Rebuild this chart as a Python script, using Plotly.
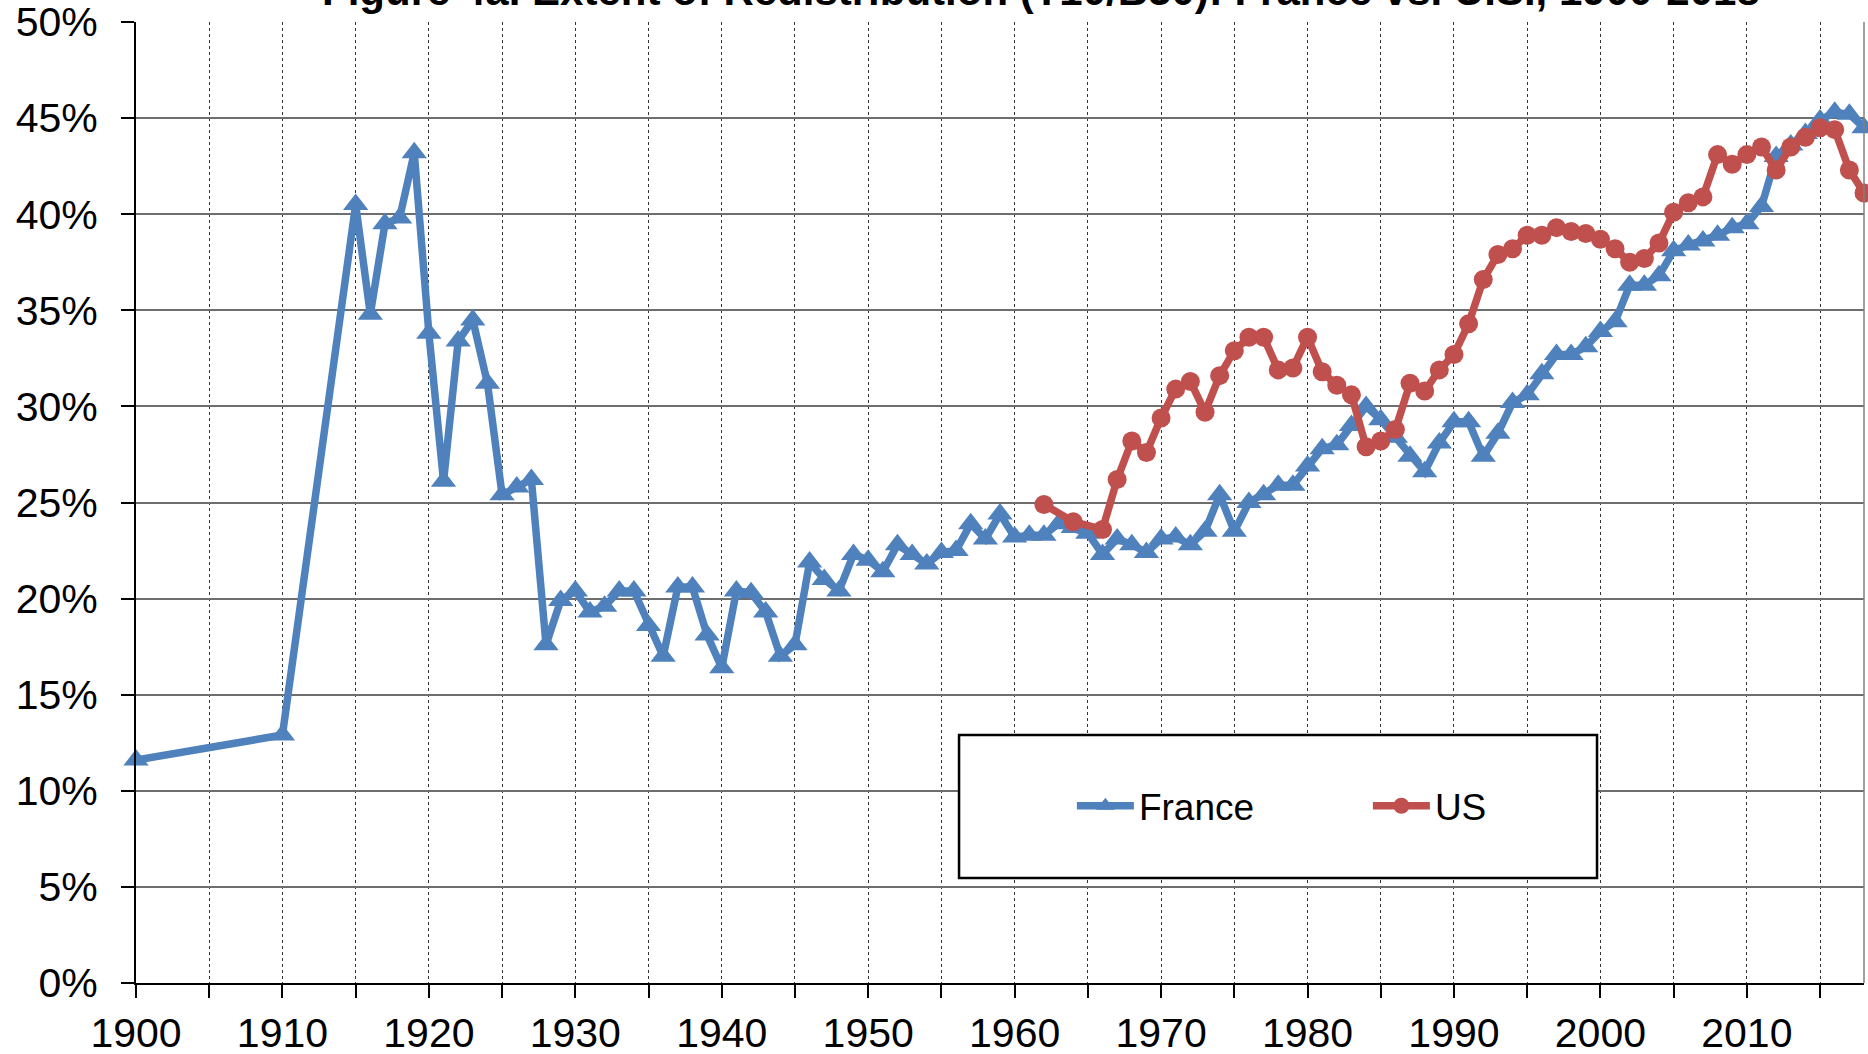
import plotly.graph_objects as go

# ---------------- data ----------------
france_years = [1900, 1910] + list(range(1915, 2019))
france_values = [
    11.6, 12.9,
    40.5, 34.8, 39.5, 39.8, 43.2, 33.8, 26.1, 33.4, 34.5, 31.2,   # 1915-1924
    25.4, 25.8, 26.2, 17.6, 19.9, 20.4, 19.3, 19.6, 20.4, 20.4,   # 1925-1934
    18.6, 17.0, 20.6, 20.6, 18.1, 16.4, 20.4, 20.3, 19.3, 17.0,   # 1935-1944
    17.6, 21.9, 21.0, 20.4, 22.3, 22.0, 21.4, 22.8, 22.3, 21.8,   # 1945-1954
    22.4, 22.5, 23.9, 23.1, 24.4, 23.2, 23.3, 23.3, 23.9, 23.7,   # 1955-1964
    23.4, 22.3, 23.1, 22.8, 22.4, 23.1, 23.2, 22.8, 23.5, 25.4,   # 1965-1974
    23.5, 25.0, 25.4, 25.9, 25.9, 26.9, 27.8, 28.0, 29.0, 30.0,   # 1975-1984
    29.3, 28.4, 27.4, 26.6, 28.1, 29.2, 29.2, 27.4, 28.6, 30.2,   # 1985-1994
    30.6, 31.7, 32.7, 32.7, 33.1, 33.9, 34.4, 36.3, 36.3, 36.8,   # 1995-2004
    38.1, 38.4, 38.6, 38.9, 39.3, 39.5, 40.4, 43.0, 43.6, 44.2,   # 2005-2014
    44.9, 45.3, 45.2, 44.5,                                       # 2015-2018
]

us_years = [1962, 1964, 1966] + list(range(1967, 2019))
us_values = [
    24.9, 24.0, 23.6,
    26.2, 28.2, 27.6, 29.4, 30.9, 31.3, 29.7, 31.6, 32.9, 33.6,   # 1967-1976
    33.6, 31.9, 32.0, 33.6, 31.8, 31.1, 30.6, 27.9, 28.2, 28.8,   # 1977-1986
    31.2, 30.8, 31.9, 32.7, 34.3, 36.6, 37.9, 38.2, 38.9, 38.9,   # 1987-1996
    39.3, 39.1, 39.0, 38.7, 38.2, 37.5, 37.7, 38.5, 40.1, 40.6,   # 1997-2006
    40.9, 43.1, 42.6, 43.1, 43.5, 42.3, 43.5, 44.0, 44.5, 44.4,   # 2007-2016
    42.3, 41.1,                                                   # 2017-2018
]

x_tick_vals = list(range(1900, 2019, 5))
x_tick_text = [str(v) if v % 10 == 0 else "" for v in x_tick_vals]
y_tick_vals = [0, 5, 10, 15, 20, 25, 30, 35, 40, 45, 50]
y_tick_text = ["0%", "5%", "10%", "15%", "20%", "25%", "30%", "35%", "40%", "45%", "50%"]

title_text = "Figure 4a. Extent of Redistribution (T10/B50): France vs. U.S., 1900-2018"

FONT = "Liberation Sans, Arial, sans-serif"
BLUE = "#4F81BD"
RED = "#C0504D"

fig = go.Figure()
fig.add_trace(go.Scatter(
    x=france_years, y=france_values, name="France", mode="lines+markers",
    line=dict(color=BLUE, width=7.5),
    marker=dict(symbol="triangle-up", size=22, color=BLUE),
    cliponaxis=False,
))
fig.add_trace(go.Scatter(
    x=us_years, y=us_values, name="US", mode="lines+markers",
    line=dict(color=RED, width=7.5),
    marker=dict(symbol="circle", size=19, color=RED),
    cliponaxis=False,
))

fig.update_layout(
    width=1868, height=1054,
    margin=dict(l=136, r=4, t=21.5, b=70.5, pad=0),
    paper_bgcolor="white", plot_bgcolor="white",
    font=dict(family=FONT, color="black", size=41),
    showlegend=True,
    legend=dict(
        orientation="h", x=0.5416, xanchor="left", y=0.184, yanchor="middle",
        bgcolor="rgba(0,0,0,0)", borderwidth=0,
        font=dict(family=FONT, size=37, color="black"),
        entrywidth=224, entrywidthmode="pixels", itemwidth=57,
    ),
    xaxis=dict(
        range=[1900, 2018], tickmode="array", tickvals=x_tick_vals, ticktext=x_tick_text,
        ticks="outside", ticklen=13, tickcolor="black", tickwidth=1.5,
        showline=True, linecolor="black", linewidth=2,
        showgrid=True, gridcolor="#333333", gridwidth=1, griddash="dot",
        zeroline=False, tickfont=dict(size=41), ticklabelstandoff=0,
        ticklabeloverflow="allow", automargin=False,
    ),
    yaxis=dict(
        range=[0, 50], tickmode="array", tickvals=y_tick_vals, ticktext=y_tick_text,
        ticks="outside", ticklen=13, tickcolor="black", tickwidth=1.5,
        showline=True, linecolor="black", linewidth=2,
        showgrid=True, gridcolor="#6e6e6e", gridwidth=1.5,
        zeroline=False, tickfont=dict(size=41), ticklabelstandoff=15,
        ticklabeloverflow="allow", automargin=False,
    ),
    shapes=[
        dict(type="line", xref="paper", yref="paper", x0=1, x1=1, y0=0, y1=1,
             line=dict(color="#808080", width=1.5), layer="above"),
        dict(type="rect", xref="paper", yref="paper", x0=0.4763, x1=0.8455, y0=0.1093, y1=0.258,
             fillcolor="white", line=dict(color="black", width=2.5), layer="above"),
    ],
    annotations=[
        dict(text="<b>" + title_text + "</b>", xref="paper", yref="paper",
             x=(1041 - 136) / 1728, y=1.0325, xanchor="center", yanchor="middle",
             showarrow=False, font=dict(family=FONT, size=42, color="black")),
    ],
)

fig.write_html("out.html", config={"displayModeBar": False},
               post_script="document.body.style.margin='0';")
